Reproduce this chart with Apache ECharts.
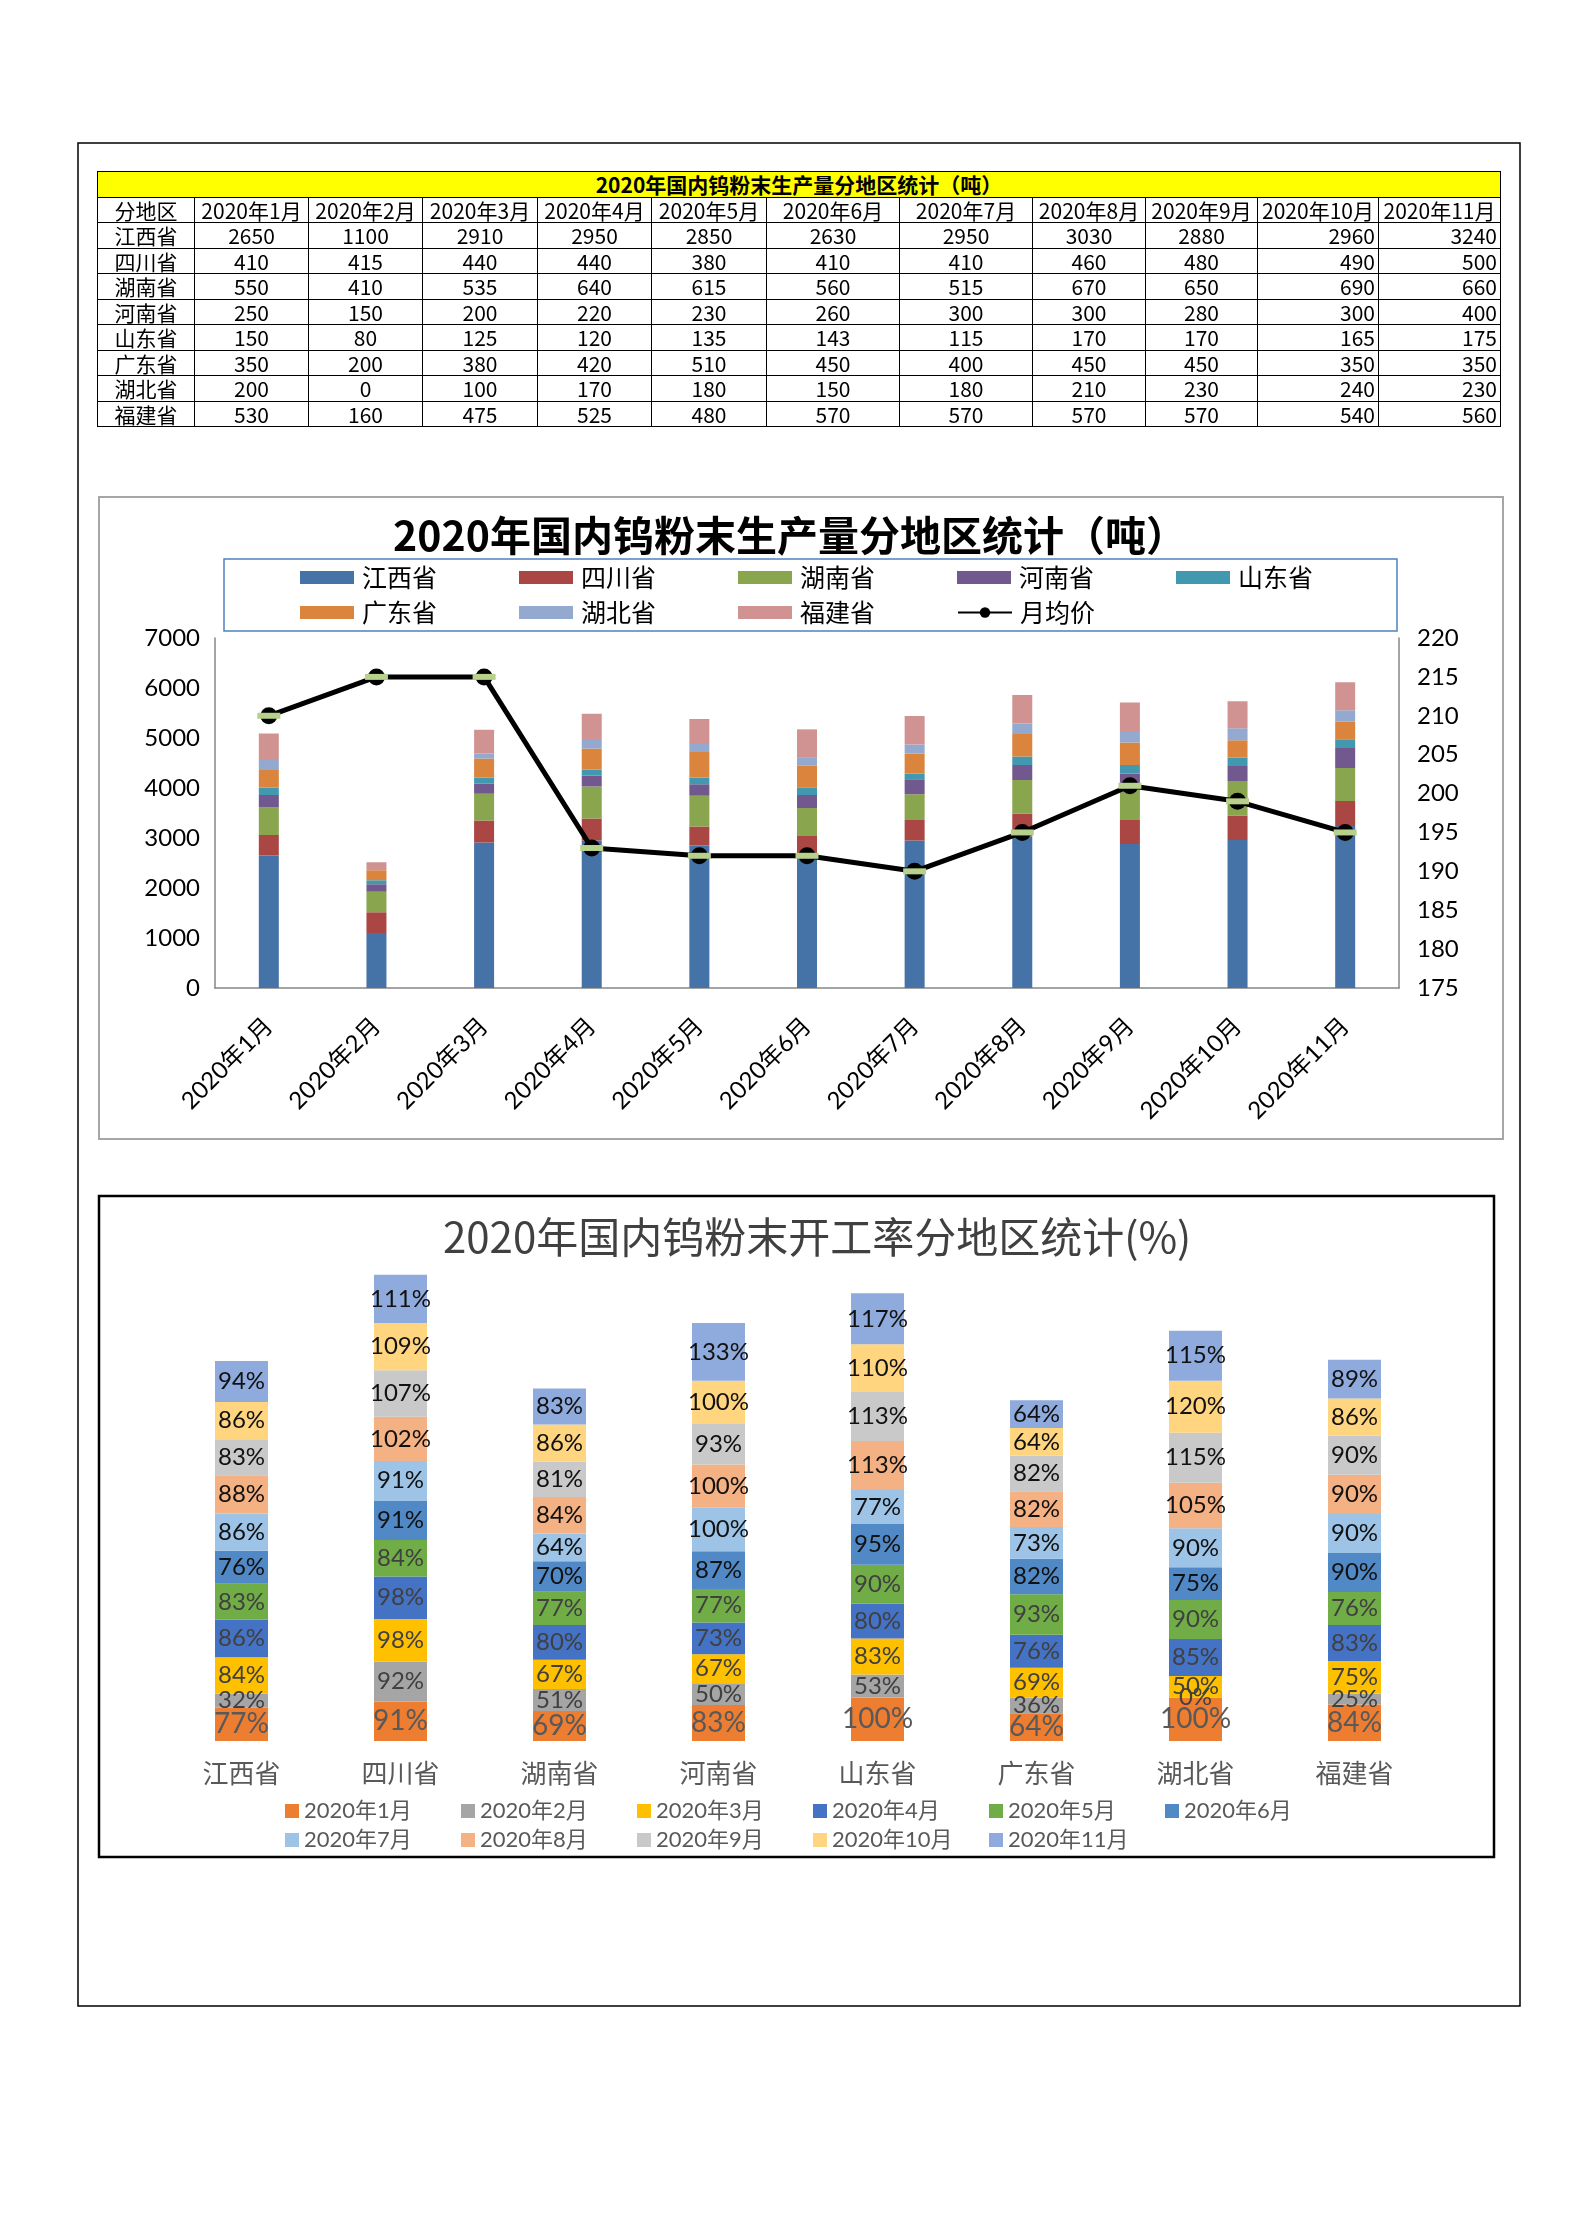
<!DOCTYPE html>
<html><head><meta charset="utf-8">
<script src="https://cdn.jsdelivr.net/npm/echarts@6/dist/echarts.min.js"></script>
<style>
html,body{margin:0;padding:0;background:#fff;}
#wrap{position:relative;width:1580px;height:2237px;overflow:hidden;}
#chart{position:absolute;left:0;top:0;width:1580px;height:2237px;}
#tbl{position:absolute;left:97px;top:171px;border-collapse:collapse;table-layout:fixed;font-family:'Liberation Sans Narrow','Noto Sans CJK SC',sans-serif;font-size:21px;color:#000;z-index:2;}
#tbl td{border:1px solid #000;padding:0 3px;height:24.5px;line-height:24px;text-align:center;white-space:nowrap;overflow:hidden;}
#tbl td.r{text-align:right;}
#tbl tr.title td{background:#ffff00;font-weight:bold;font-size:21px;font-family:'Noto Sans CJK SC',sans-serif;}
</style>
</head><body>
<div id="wrap"><div id="chart"></div><table id="tbl"></table></div>
<script>
// ---------------- data ----------------
const months = ['2020年1月','2020年2月','2020年3月','2020年4月','2020年5月','2020年6月','2020年7月','2020年8月','2020年9月','2020年10月','2020年11月'];
const provinces = ['江西省','四川省','湖南省','河南省','山东省','广东省','湖北省','福建省'];

// production (tonnes) per province, by month
const prodJiangxi  = [2650,1100,2910,2950,2850,2630,2950,3030,2880,2960,3240];
const prodSichuan  = [410,415,440,440,380,410,410,460,480,490,500];
const prodHunan    = [550,410,535,640,615,560,515,670,650,690,660];
const prodHenan    = [250,150,200,220,230,260,300,300,280,300,400];
const prodShandong = [150,80,125,120,135,143,115,170,170,165,175];
const prodGuangdong= [350,200,380,420,510,450,400,450,450,350,350];
const prodHubei    = [200,0,100,170,180,150,180,210,230,240,230];
const prodFujian   = [530,160,475,525,480,570,570,570,570,540,560];
// monthly average price
const avgPrice = [210,215,215,193,192,192,190,195,201,199,195];

// operating rate (%) by month, across provinces in `provinces` order
const rateJan = [77,91,69,83,100,64,100,84];
const rateFeb = [32,92,51,50,53,36,0,25];
const rateMar = [84,98,67,67,83,69,50,75];
const rateApr = [86,98,80,73,80,76,85,83];
const rateMay = [83,84,77,77,90,93,90,76];
const rateJun = [76,91,70,87,95,82,75,90];
const rateJul = [86,91,64,100,77,73,90,90];
const rateAug = [88,102,84,100,113,82,105,90];
const rateSep = [83,107,81,93,113,82,115,90];
const rateOct = [86,109,86,100,110,64,120,86];
const rateNov = [94,111,83,133,117,64,115,89];

const leftTicks = {min:0, max:7000, interval:1000};
const rightTicks = {min:175, max:220, interval:5};

// ---------------- table ----------------
const prodRows = [prodJiangxi,prodSichuan,prodHunan,prodHenan,prodShandong,prodGuangdong,prodHubei,prodFujian];
const colW = [97,114,114,115,114,115,133,133,113,112,121,122];
(function(){
  const t = document.getElementById('tbl');
  let h = '<colgroup>' + colW.map(w=>'<col style="width:'+w+'px">').join('') + '</colgroup>';
  h += '<tr class="title"><td colspan="12">2020年国内钨粉末生产量分地区统计（吨）</td></tr>';
  h += '<tr><td>分地区</td>' + months.map(m=>'<td>'+m+'</td>').join('') + '</tr>';
  prodRows.forEach((row,i)=>{
    h += '<tr><td>'+provinces[i]+'</td>' + row.map((v,j)=>'<td'+(j>=9?' class="r"':'')+'>'+v+'</td>').join('') + '</tr>';
  });
  t.innerHTML = h;
})();

// ---------------- chart ----------------
const prodColors = ['#4572A7','#AA4643','#89A54E','#71588F','#4198AF','#DB843D','#93A9CF','#D19392'];
const rateRows = [rateJan,rateFeb,rateMar,rateApr,rateMay,rateJun,rateJul,rateAug,rateSep,rateOct,rateNov];
const rateColors = ['#ED7D31','#A5A5A5','#FFC000','#4472C4','#70AD47','#5089C6','#9DC3E6','#F4B183','#C9C9C9','#FFD580','#8FAADC'];
const LAT = "Lato, 'Noto Sans CJK SC', sans-serif";
const CJK = "'Noto Sans CJK SC', sans-serif";

const series = [];
prodRows.forEach((row,i)=>{
  series.push({name:provinces[i], type:'bar', stack:'prod', xAxisIndex:0, yAxisIndex:0,
    barWidth:20, itemStyle:{color:prodColors[i]}, data:row});
});
series.push({name:'月均价', type:'line', xAxisIndex:0, yAxisIndex:1, data:avgPrice,
  symbol:'circle', symbolSize:17, itemStyle:{color:'#000'}, lineStyle:{color:'#000', width:5}, z:5});
series.push({name:'月均价标记', type:'line', xAxisIndex:0, yAxisIndex:1, data:avgPrice,
  symbol:'rect', symbolSize:[23,6], itemStyle:{color:'#B7D08B'}, lineStyle:{opacity:0}, z:6, silent:true});
rateRows.forEach((row,i)=>{
  series.push({name:months[i], type:'bar', stack:'rate', xAxisIndex:1, yAxisIndex:2,
    barWidth:53, itemStyle:{color:rateColors[i]}, data:row,
    label:{show:true, position:'inside', formatter:'{c}%', fontFamily:LAT,
      fontSize: i===0 ? 28 : 24, color: i===0 ? '#595959' : (i<5 ? '#404040' : '#111')}});
});

const option = {
  animation:false,
  backgroundColor:'#fff',
  title:[
    {text:'2020年国内钨粉末生产量分地区统计（吨）', left:'center', top:510,
      textStyle:{fontSize:41, fontWeight:'bold', color:'#000', fontFamily:CJK}},
    {text:'2020年国内钨粉末开工率分地区统计(%)', left:438, top:1211,
      textStyle:{fontSize:42, fontWeight:'normal', color:'#404040', fontFamily:CJK}}
  ],
  legend:[
    {data:provinces.map(p=>({name:p, icon:'rect'})).concat([{name:'月均价'}]),
      left:224, top:559, width:1095, padding:[6,12,6,76], itemGap:10,
      itemWidth:54, itemHeight:13, borderColor:'#4F81BD', borderWidth:1.5,
      textStyle:{fontSize:25, color:'#000', fontFamily:CJK, width:147, lineHeight:24, padding:[0,0,0,3]}},
    {data:months.map(m=>({name:m, icon:'rect'})),
      left:285, top:1800, width:1070, padding:0, itemGap:7,
      itemWidth:14, itemHeight:14,
      textStyle:{fontSize:22, color:'#595959', fontFamily:LAT, width:150, lineHeight:21}}
  ],
  grid:[
    {left:215, right:181, top:638, height:350, containLabel:false},
    {left:162, right:146, top:1220, height:521, containLabel:false}
  ],
  xAxis:[
    {type:'category', gridIndex:0, data:months,
      axisLine:{lineStyle:{color:'#868686', width:1.5}}, axisTick:{show:false},
      axisLabel:{rotate:45, margin:34, fontSize:24, color:'#000', fontFamily:LAT, interval:0}},
    {type:'category', gridIndex:1, data:provinces,
      axisLine:{show:false}, axisTick:{show:false},
      axisLabel:{margin:19, fontSize:26, color:'#595959', fontFamily:CJK, interval:0}}
  ],
  yAxis:[
    {type:'value', gridIndex:0, min:leftTicks.min, max:leftTicks.max, interval:leftTicks.interval,
      axisLine:{show:true, lineStyle:{color:'#868686', width:1.5}}, axisTick:{show:false},
      splitLine:{show:false}, axisLabel:{fontSize:24, color:'#000', margin:15, fontFamily:LAT, formatter:v=>String(v)}},
    {type:'value', gridIndex:0, position:'right', min:rightTicks.min, max:rightTicks.max, interval:rightTicks.interval,
      axisLine:{show:true, lineStyle:{color:'#868686', width:1.5}}, axisTick:{show:false},
      splitLine:{show:false}, axisLabel:{fontSize:24, color:'#000', margin:18, fontFamily:LAT}},
    {type:'value', gridIndex:1, min:0, max:1200, show:false, splitLine:{show:false}}
  ],
  graphic:[
    {type:'rect', shape:{x:78, y:143, width:1442, height:1863}, style:{fill:'none', stroke:'#000', lineWidth:1.5}, silent:true, z:-1},
    {type:'rect', shape:{x:99, y:497, width:1404, height:642}, style:{fill:'none', stroke:'#A6A6A6', lineWidth:2}, silent:true, z:-1},
    {type:'rect', shape:{x:99, y:1196, width:1395, height:661}, style:{fill:'none', stroke:'#000', lineWidth:2.5}, silent:true, z:-1}
  ],
  series:series
};
const chart = echarts.init(document.getElementById('chart'), null, {renderer:'canvas'});
chart.setOption(option);
</script>
</body></html>
